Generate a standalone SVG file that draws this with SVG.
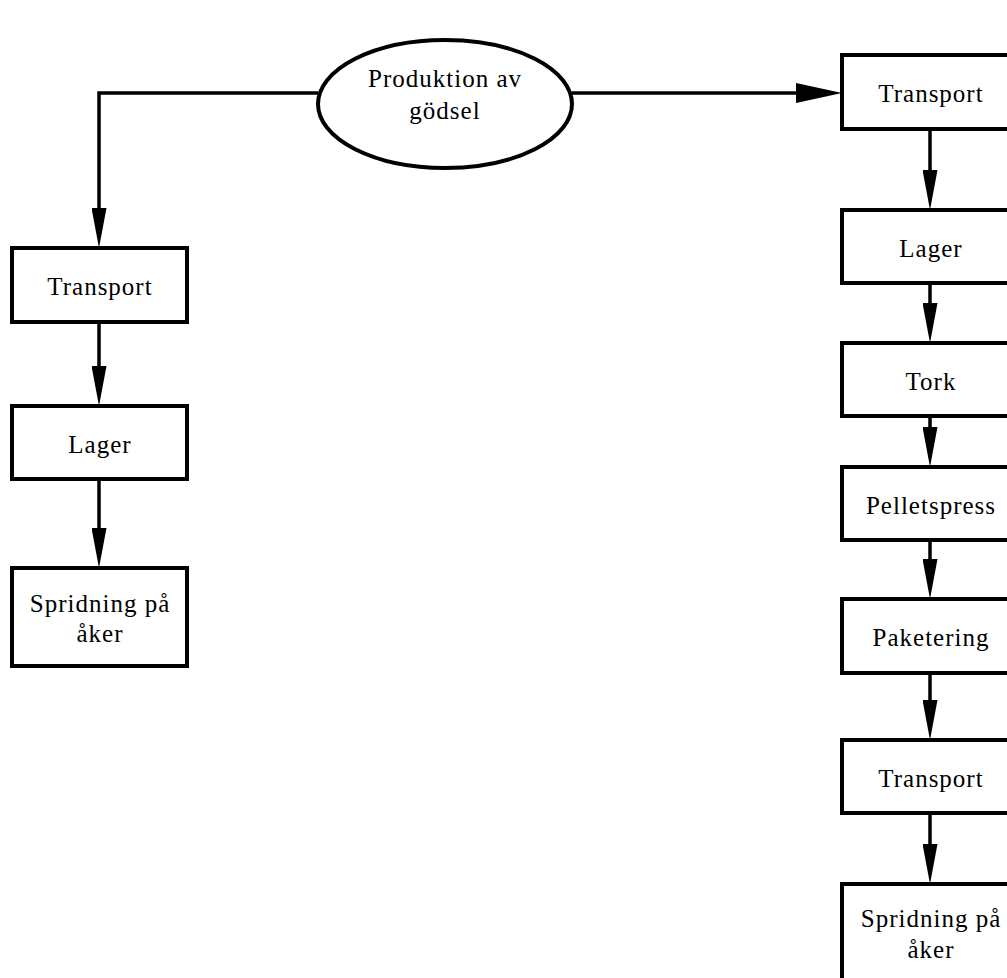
<svg xmlns="http://www.w3.org/2000/svg" width="1007" height="978" viewBox="0 0 1007 978">
<style>
.box{fill:#fff;stroke:#000;stroke-width:4}
.ell{fill:#fff;stroke:#000;stroke-width:4}
.lbl{font-family:"Liberation Serif","Times New Roman",serif;font-size:25px;letter-spacing:1px;text-anchor:middle;fill:#000}
.con{fill:none;stroke:#000;stroke-width:3.5}
</style>
<defs>
<marker id="av" markerUnits="userSpaceOnUse" viewBox="0 0 40 15" refX="20" refY="7.5" markerWidth="40" markerHeight="15" orient="auto">
<path d="M0,0 L40,7.5 L0,15 Z" fill="#000"/>
</marker>
<marker id="ah" markerUnits="userSpaceOnUse" viewBox="0 0 46 20" refX="20" refY="10" markerWidth="46" markerHeight="20" orient="auto">
<path d="M0,0 L46,10 L0,20 Z" fill="#000"/>
</marker>
</defs>
<g id="connectors">
<path class="con" d="M318,93 H99 V228" marker-end="url(#av)"/>
<path class="con" d="M99,322 V386" marker-end="url(#av)"/>
<path class="con" d="M99,479 V548" marker-end="url(#av)"/>
<path class="con" d="M572,93 H816" marker-end="url(#ah)"/>
<path class="con" d="M930,129 V190" marker-end="url(#av)"/>
<path class="con" d="M930,283 V323" marker-end="url(#av)"/>
<path class="con" d="M930,416 V447" marker-end="url(#av)"/>
<path class="con" d="M930,540 V579" marker-end="url(#av)"/>
<path class="con" d="M930,673 V720" marker-end="url(#av)"/>
<path class="con" d="M930,813 V864" marker-end="url(#av)"/>
</g>
<g id="n-produktion">
<ellipse class="ell" cx="445" cy="104" rx="127" ry="64"/>
<text class="lbl" x="445" y="87">Produktion av</text>
<text class="lbl" x="445" y="119">gödsel</text>
</g>
<g id="n-l-transport">
<rect class="box" x="12" y="248" width="175" height="74"/>
<text class="lbl" x="100" y="295">Transport</text>
</g>
<g id="n-l-lager">
<rect class="box" x="12" y="406" width="175" height="73"/>
<text class="lbl" x="100" y="453">Lager</text>
</g>
<g id="n-l-spridning">
<rect class="box" x="12" y="568" width="175" height="98"/>
<text class="lbl" x="100" y="612">Spridning på</text>
<text class="lbl" x="100" y="642">åker</text>
</g>
<g id="n-r-transport1">
<rect class="box" x="842" y="55" width="176" height="74"/>
<text class="lbl" x="931" y="102">Transport</text>
</g>
<g id="n-r-lager">
<rect class="box" x="842" y="210" width="176" height="73"/>
<text class="lbl" x="931" y="257">Lager</text>
</g>
<g id="n-r-tork">
<rect class="box" x="842" y="343" width="176" height="73"/>
<text class="lbl" x="931" y="390">Tork</text>
</g>
<g id="n-r-pelletspress">
<rect class="box" x="842" y="467" width="176" height="73"/>
<text class="lbl" x="931" y="514">Pelletspress</text>
</g>
<g id="n-r-paketering">
<rect class="box" x="842" y="599" width="176" height="74"/>
<text class="lbl" x="931" y="646">Paketering</text>
</g>
<g id="n-r-transport2">
<rect class="box" x="842" y="740" width="176" height="73"/>
<text class="lbl" x="931" y="787">Transport</text>
</g>
<g id="n-r-spridning">
<rect class="box" x="842" y="884" width="176" height="100"/>
<text class="lbl" x="931" y="927">Spridning på</text>
<text class="lbl" x="931" y="958">åker</text>
</g>
</svg>
